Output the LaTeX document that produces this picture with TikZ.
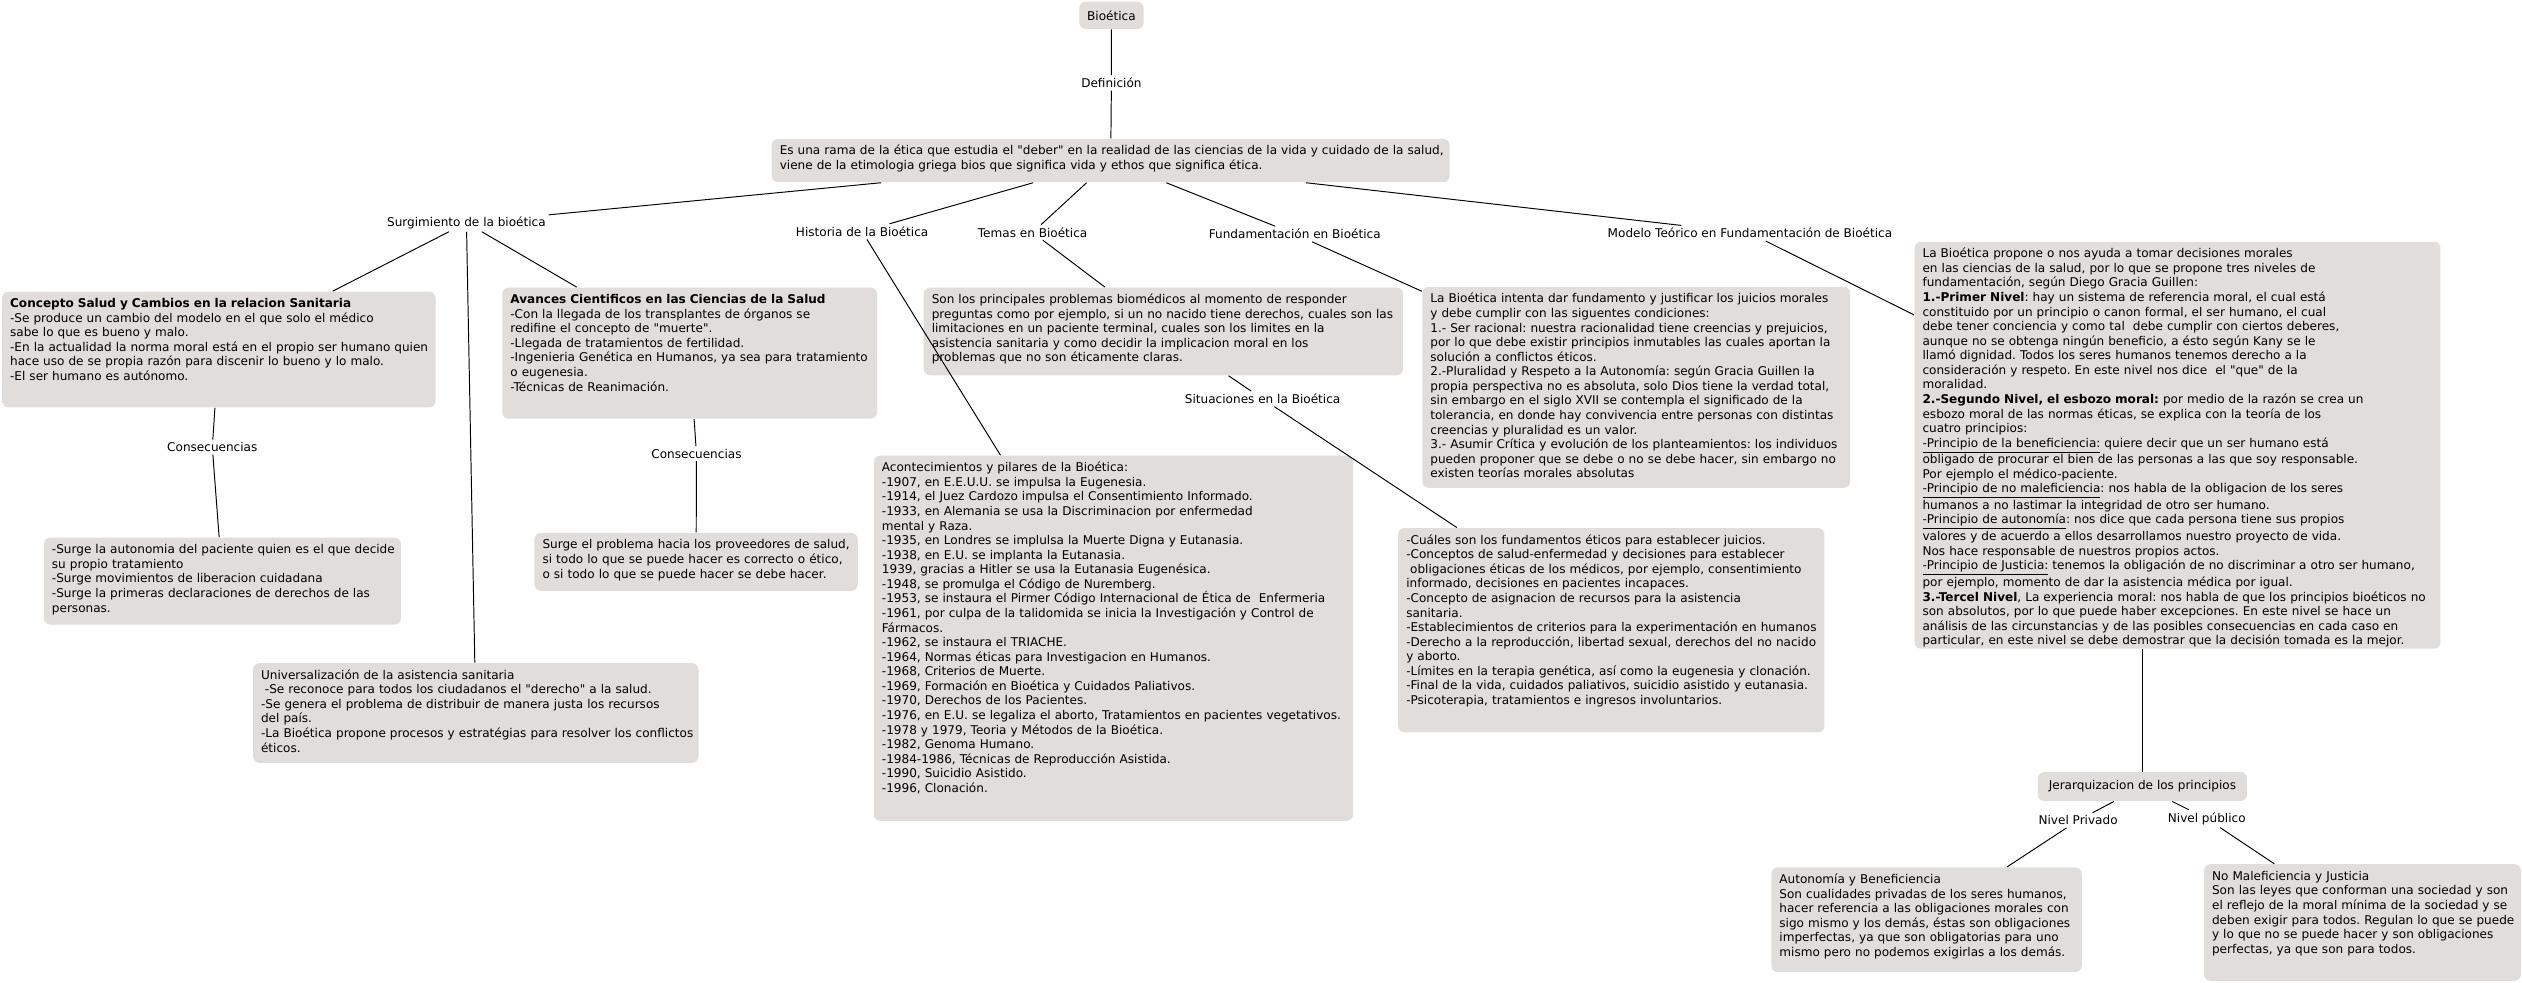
\documentclass[tikz,border=0pt]{standalone}
\usepackage{fontspec}
\newfontfamily\cmapfont{DejaVu Sans}
\usepackage{xcolor}
\usepackage{tikz}
\usetikzlibrary{calc}
\definecolor{cmapgris}{RGB}{224,221,219}
\tikzstyle{cbox}=[rectangle, rounded corners=4pt, fill=cmapgris, align=left,% caja de concepto, texto arriba
inner xsep=2pt, inner ysep=4pt, text height=6pt, anchor=north west,
execute at begin node={\leftskip=3pt}]
\tikzstyle{cone}=[rectangle, rounded corners=4pt, fill=cmapgris, inner sep=2pt]
\tikzstyle{lnk}=[inner sep=1.5pt]
\tikzstyle{cmap}=[line width=0.6pt, font=\cmapfont\fontsize{7.5}{9.06}\selectfont\frenchspacing]

\begin{document}
\begin{tikzpicture}[cmap, x=1pt, y=-1pt]
\useasboundingbox (0,0) rectangle (1568,611);
% conceptos
\node[cone, minimum width=40pt, minimum height=17pt] (c0) at (691,9.5) {Bioética};
\node[cbox, text width=417.5pt, text depth=13pt] (c1) at (479.5,86) {Es una rama de la ética que estudia el "deber" en la realidad de las ciencias de la vida y cuidado de la salud,\\
viene de la etimologia griega bios que significa vida y ethos que significa ética.};
\node[cbox, text width=265.5pt, text depth=58pt] (c2) at (1,181) {\textbf{Concepto Salud y Cambios en la relacion Sanitaria}\\
-Se produce un cambio del modelo en el que solo el médico\\
sabe lo que es bueno y malo.\\
-En la actualidad la norma moral está en el propio ser humano quien\\
hace uso de se propia razón para discenir lo bueno y lo malo.\\
-El ser humano es autónomo.};
\node[cbox, text width=229pt, text depth=67.5pt] (c3) at (312,178.5) {\textbf{Avances Cientificos en las Ciencias de la Salud}\\
-Con la llegada de los transplantes de órganos se\\
redifine el concepto de "muerte".\\
-Llegada de tratamientos de fertilidad.\\
-Ingenieria Genética en Humanos, ya sea para tratamiento\\
o eugenesia.\\
-Técnicas de Reanimación.};
\node[cbox, text width=218pt, text depth=40pt] (c4) at (27,334) {-Surge la autonomia del paciente quien es el que decide\\
su propio tratamiento\\
-Surge movimientos de liberacion cuidadana\\
-Surge la primeras declaraciones de derechos de las\\
personas.};
\node[cbox, text width=197pt, text depth=22pt] (c5) at (332,331) {Surge el problema hacia los proveedores de salud,\\
si todo lo que se puede hacer es correcto o ético,\\
o si todo lo que se puede hacer se debe hacer.};
\node[cbox, text width=273pt, text depth=48pt] (c6) at (157,412) {Universalización de la asistencia sanitaria\\
\hspace*{2.4pt}-Se reconoce para todos los ciudadanos el "derecho" a la salud.\\
-Se genera el problema de distribuir de manera justa los recursos\\
del país.\\
-La Bioética propone procesos y estratégias para resolver los conflictos\\
éticos.};
\node[cbox, text width=294pt, text depth=40.5pt] (c7) at (574,178.5) {Son los principales problemas biomédicos al momento de responder\\
preguntas como por ejemplo, si un no nacido tiene derechos, cuales son las\\
limitaciones en un paciente terminal, cuales son los limites en la\\
asistencia sanitaria y como decidir la implicacion moral en los\\
problemas que no son éticamente claras.};
\node[cbox, text width=294pt, text depth=213pt] (c8) at (543,283) {Acontecimientos y pilares de la Bioética:\\
-1907, en E.E.U.U. se impulsa la Eugenesia.\\
-1914, el Juez Cardozo impulsa el Consentimiento Informado.\\
-1933, en Alemania se usa la Discriminacion por enfermedad\\
mental y Raza.\\
-1935, en Londres se implulsa la Muerte Digna y Eutanasia.\\
-1938, en E.U. se implanta la Eutanasia.\\
1939, gracias a Hitler se usa la Eutanasia Eugenésica.\\
-1948, se promulga el Código de Nuremberg.\\
-1953, se instaura el Pirmer Código Internacional de Ética de\ \ Enfermeria\\
-1961, por culpa de la talidomida se inicia la Investigación y Control de\\
Fármacos.\\
-1962, se instaura el TRIACHE.\\
-1964, Normas éticas para Investigacion en Humanos.\\
-1968, Criterios de Muerte.\\
-1969, Formación en Bioética y Cuidados Paliativos.\\
-1970, Derechos de los Pacientes.\\
-1976, en E.U. se legaliza el aborto, Tratamientos en pacientes vegetativos.\\
-1978 y 1979, Teoria y Métodos de la Bioética.\\
-1982, Genoma Humano.\\
-1984-1986, Técnicas de Reproducción Asistida.\\
-1990, Suicidio Asistido.\\
-1996, Clonación.};
\node[cbox, text width=262pt, text depth=111pt] (c9) at (884,178) {La Bioética intenta dar fundamento y justificar los juicios morales\\
y debe cumplir con las siguentes condiciones:\\
1.- Ser racional: nuestra racionalidad tiene creencias y prejuicios,\\
por lo que debe existir principios inmutables las cuales aportan la\\
solución a conflictos éticos.\\
2.-Pluralidad y Respeto a la Autonomía: según Gracia Guillen la\\
propia perspectiva no es absoluta, solo Dios tiene la verdad total,\\
sin embargo en el siglo XVII se contempla el significado de la\\
tolerancia, en donde hay convivencia entre personas con distintas\\
creencias y pluralidad es un valor.\\
3.- Asumir Crítica y evolución de los planteamientos: los individuos\\
pueden proponer que se debe o no se debe hacer, sin embargo no\\
existen teorías morales absolutas};
\node[cbox, text width=261pt, text depth=113pt] (c10) at (869,328) {-Cuáles son los fundamentos éticos para establecer juicios.\\
-Conceptos de salud-enfermedad y decisiones para establecer\\
\hspace*{2.4pt}obligaciones éticas de los médicos, por ejemplo, consentimiento\\
informado, decisiones en pacientes incapaces.\\
-Concepto de asignacion de recursos para la asistencia\\
sanitaria.\\
-Establecimientos de criterios para la experimentación en humanos\\
-Derecho a la reproducción, libertad sexual, derechos del no nacido\\
y aborto.\\
-Límites en la terapia genética, así como la eugenesia y clonación.\\
-Final de la vida, cuidados paliativos, suicidio asistido y eutanasia.\\
-Psicoterapia, tratamientos e ingresos involuntarios.};
\node[cbox, text width=323pt, text depth=239pt] (c11) at (1190,150) {La Bioética propone o nos ayuda a tomar decisiones morales\\
en las ciencias de la salud, por lo que se propone tres niveles de\\
fundamentación, según Diego Gracia Guillen:\\
\textbf{1.-Primer Nivel}: hay un sistema de referencia moral, el cual está\\
constituido por un principio o canon formal, el ser humano, el cual\\
debe tener conciencia y como tal\ \ debe cumplir con ciertos deberes,\\
aunque no se obtenga ningún beneficio, a ésto según Kany se le\\
llamó dignidad. Todos los seres humanos tenemos derecho a la\\
consideración y respeto. En este nivel nos dice\ \ el "que" de la\\
moralidad.\\
\textbf{2.-Segundo Nivel, el esbozo moral:} por medio de la razón se crea un\\
esbozo moral de las normas éticas, se explica con la teoría de los\\
cuatro principios:\\
\underline{-Principio de la beneficiencia:} quiere decir que un ser humano está\\
obligado de procurar el bien de las personas a las que soy responsable.\\
Por ejemplo el médico-paciente.\\
\underline{-Principio de no maleficiencia}: nos habla de la obligacion de los seres\\
humanos a no lastimar la integridad de otro ser humano.\\
\underline{-Principio de autonomía}: nos dice que cada persona tiene sus propios\\
valores y de acuerdo a ellos desarrollamos nuestro proyecto de vida.\\
Nos hace responsable de nuestros propios actos.\\
\underline{-Principio de Justicia:} tenemos la obligación de no discriminar a otro ser humano,\\
por ejemplo, momento de dar la asistencia médica por igual.\\
\textbf{3.-Tercel Nivel}, La experiencia moral: nos habla de que los principios bioéticos no\\
son absolutos, por lo que puede haber excepciones. En este nivel se hace un\\
análisis de las circunstancias y de las posibles consecuencias en cada caso en\\
particular, en este nivel se debe demostrar que la decisión tomada es la mejor.};
\node[cone, minimum width=130pt, minimum height=18pt] (c12) at (1332,489) {Jerarquizacion de los principios};
\node[cbox, text width=189pt, text depth=51pt] (c13) at (1101,539) {Autonomía y Beneficiencia\\
Son cualidades privadas de los seres humanos,\\
hacer referencia a las obligaciones morales con\\
sigo mismo y los demás, éstas son obligaciones\\
imperfectas, ya que son obligatorias para uno\\
mismo pero no podemos exigirlas a los demás.};
\node[cbox, text width=193pt, text depth=58.5pt] (c14) at (1370,537) {No Maleficiencia y Justicia\\
Son las leyes que conforman una sociedad y son\\
el reflejo de la moral mínima de la sociedad y se\\
deben exigir para todos. Regulan lo que se puede\\
y lo que no se puede hacer y son obligaciones\\
perfectas, ya que son para todos.};
% frases de enlace
\node[lnk] (l1) at (691,51.5) {Definición};
\node[lnk] (l2) at (290,138.5) {Surgimiento de la bioética};
\node[lnk] (l3) at (132,278) {Consecuencias};
\node[lnk] (l4) at (433,282) {Consecuencias};
\node[lnk] (l5) at (536,144) {Historia de la Bioética};
\node[lnk] (l6) at (642,144.5) {Temas en Bioética};
\node[lnk] (l7) at (785,248) {Situaciones en la Bioética};
\node[lnk] (l8) at (805,145.5) {Fundamentación en Bioética};
\node[lnk] (l9) at (1088,145) {Modelo Teórico en Fundamentación de Bioética};
\node[lnk] (l10) at (1292,510) {Nivel Privado};
\node[lnk] (l11) at (1372,509) {Nivel público};
\draw (c0) -- (l1) (l1) -- (c1);
\draw (c1) -- (l2) (l2) -- (c2) (l2) -- (c3) (l2) -- (c6);
\draw (c2) -- (l3) (l3) -- (c4);
\draw (c3) -- (l4) (l4) -- (c5);
\draw (c1) -- (l5) (l5) -- (c8);
\draw (c1) -- (l6) (l6) -- (c7);
\draw (c7) -- (l7) (l7) -- (c10);
\draw (c1) -- (l8) (l8) -- (c9);
\draw (c1) -- (l9) (l9) -- (c11);
\draw (c11.south -| c12) -- (c12);
\draw (c12) -- (l10) (l10) -- (c13);
\draw (c12) -- (l11) (l11) -- (c14);
\end{tikzpicture}
\end{document}
